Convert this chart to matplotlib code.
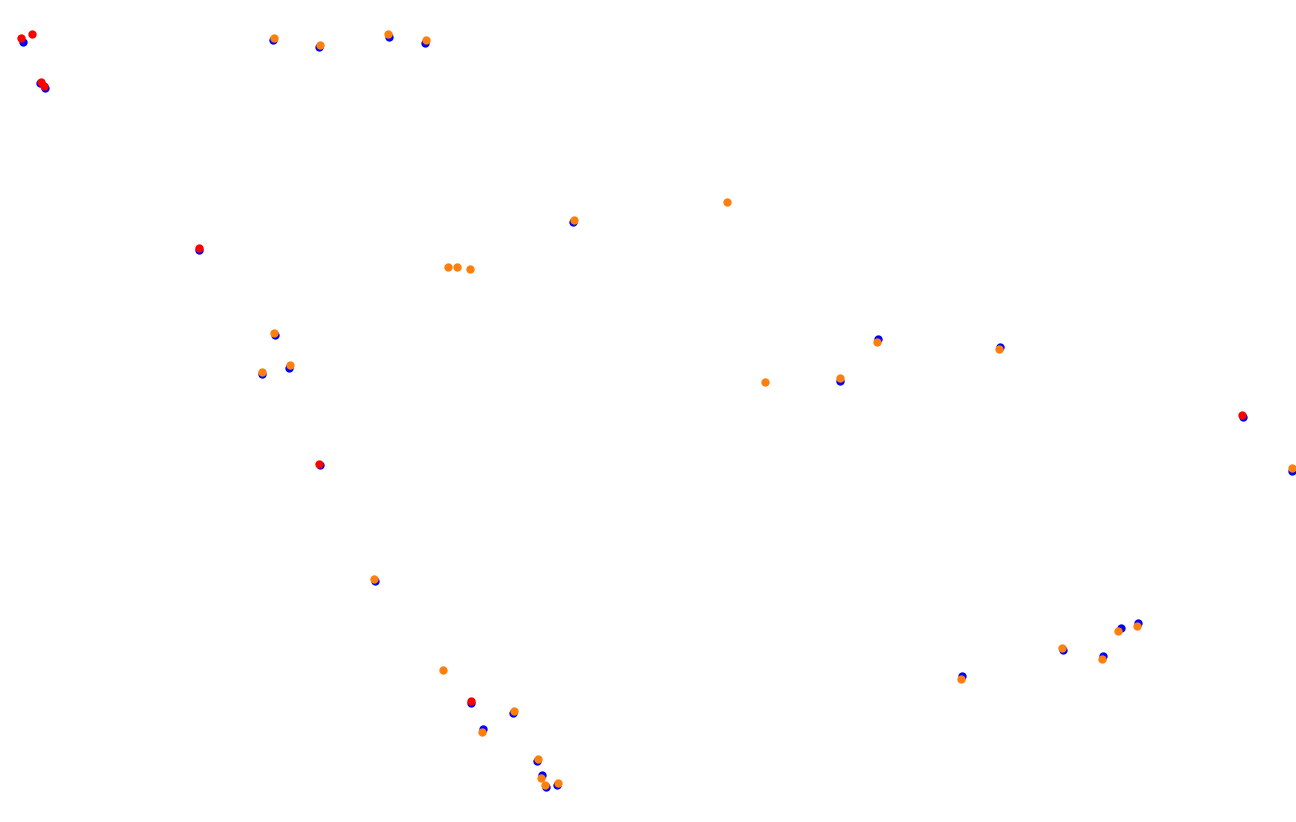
import numpy as np, matplotlib
matplotlib.use('Agg')
import matplotlib.pyplot as plt

# blue layer (drawn first)
blue_x = [23, 40, 45, 273, 319, 389, 425, 573, 199, 275, 262, 289, 320, 375, 471, 513, 483, 537, 542, 546, 557,
          840, 878, 1000, 1243, 1292, 962, 1063, 1103, 1121, 1138]
blue_y = [42, 83, 88, 40, 47, 37, 43, 222, 250, 335, 374, 368, 465, 581, 703, 713, 729, 761, 775, 787, 785,
          381, 339, 347, 417, 471, 676, 650, 656, 628, 623]

# red layer
red_x = [21, 32, 41, 44, 199, 319, 471, 1242]
red_y = [38, 34, 82, 86, 248, 464, 701, 415]

# orange layer
orange_x = [274, 320, 388, 426, 574, 727, 448, 457, 470, 274, 262, 290, 374, 443, 514, 482, 538, 541, 545, 558,
            765, 840, 877, 999, 1292, 961, 1062, 1102, 1118, 1137]
orange_y = [38, 45, 34, 40, 220, 202, 267, 267, 269, 333, 372, 365, 579, 670, 711, 732, 759, 778, 785, 783,
            382, 378, 342, 349, 468, 679, 648, 659, 631, 626]

fig = plt.figure(figsize=(12.96, 8.22), dpi=100)
ax = fig.add_axes([0, 0, 1, 1])
ax.scatter(blue_x, blue_y, s=36, c='#0000ff', linewidths=0)
ax.scatter(red_x, red_y, s=36, c='#ff0000', linewidths=0)
ax.scatter(orange_x, orange_y, s=36, c='#ff7f0e', linewidths=0)
ax.set_xlim(0, 1296)
ax.set_ylim(822, 0)
ax.axis('off')
fig.savefig('out.png', dpi=100, facecolor='white')
